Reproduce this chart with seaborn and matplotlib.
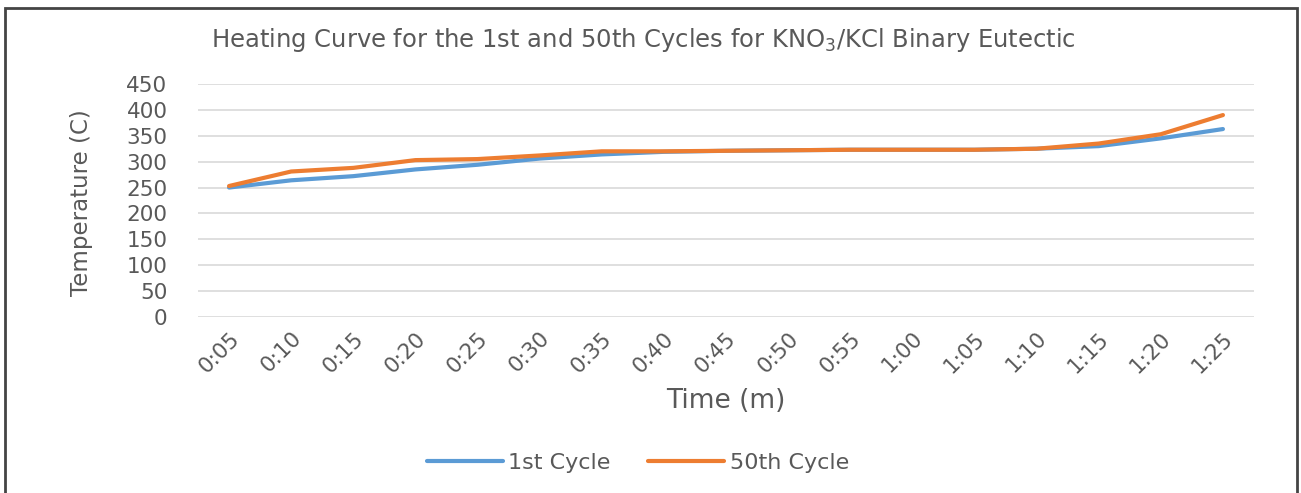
import matplotlib
matplotlib.use("Agg")
import matplotlib.pyplot as plt
import matplotlib.transforms as mtransforms
import seaborn as sns
import pandas as pd
from matplotlib.patches import Rectangle
from matplotlib.lines import Line2D

times = ["0:05", "0:10", "0:15", "0:20", "0:25", "0:30", "0:35", "0:40", "0:45",
         "0:50", "0:55", "1:00", "1:05", "1:10", "1:15", "1:20", "1:25"]
cycle_1st = [250, 264, 272, 285, 294, 306, 314, 319, 321, 322, 323, 323, 323, 325, 330, 345, 363]
cycle_50th = [253, 281, 288, 303, 305, 312, 320, 320, 321, 322, 323, 323, 323, 325, 335, 353, 390]
series_names = ["1st Cycle", "50th Cycle"]
yticks = [0, 50, 100, 150, 200, 250, 300, 350, 400, 450]

df = pd.DataFrame({
    "idx": list(range(len(times))) * 2,
    "Temperature": cycle_1st + cycle_50th,
    "Series": [series_names[0]] * len(times) + [series_names[1]] * len(times),
})

sns.set_theme(style="white")
plt.rcParams["font.family"] = ["DejaVu Sans"]

W, H = 1301, 493
fig = plt.figure(figsize=(W / 100, H / 100), dpi=100)
ax = fig.add_axes([198 / W, 1 - 317 / H, (1254 - 198) / W, (317 - 84) / H])

grey = "#595959"
colors = {"1st Cycle": "#5B9BD5", "50th Cycle": "#ED7D31"}
sns.lineplot(data=df, x="idx", y="Temperature", hue="Series",
             palette=colors, linewidth=3.0, ax=ax, legend=False, sort=False)

ax.set_xlim(-0.5, len(times) - 0.5)
ax.set_ylim(0, 450)
ax.set_yticks(yticks)
ax.set_yticklabels([str(v) for v in yticks], color=grey, fontsize=15.5)
ax.set_xticks(range(len(times)))
ax.set_xticklabels(times, rotation=45, ha="right", rotation_mode="anchor",
                   color=grey, fontsize=15.5)
offset = mtransforms.ScaledTranslation(8 / 100, 0, fig.dpi_scale_trans)
for lab in ax.get_xticklabels():
    lab.set_transform(lab.get_transform() + offset)
ax.tick_params(axis="x", length=0, pad=8)
ax.tick_params(axis="y", length=0, pad=22)
ax.grid(axis="y", color="#D9D9D9", linewidth=1.2)
ax.set_axisbelow(True)
for s in ax.spines.values():
    s.set_visible(False)
ax.set_xlabel("Time (m)", color=grey, fontsize=19, labelpad=8)
ax.set_ylabel("Temperature (C)", color=grey, fontsize=16.5)
ax.yaxis.set_label_coords((93 - 198) / 1056, 0.49)

fig.text(643 / W, 1 - 40 / H,
         "Heating Curve for the 1st and 50th Cycles for KNO$_3$/KCl Binary Eutectic",
         ha="center", va="center", color=grey, fontsize=17.5)

handles = [Line2D([], [], color=colors[n], lw=3.0) for n in series_names]
leg = fig.legend(handles, series_names, loc="center", bbox_to_anchor=(638 / W, 1 - 463 / H),
                 ncol=2, frameon=False, fontsize=16, handlelength=3.4,
                 handletextpad=0.25, columnspacing=1.7)
for t in leg.get_texts():
    t.set_color(grey)

fig.patches.append(Rectangle((5 / W, -0.02), (1297 - 5) / W, 1 - 8 / H + 0.02,
                             transform=fig.transFigure, fill=False,
                             edgecolor="#444444", linewidth=2.0))

fig.savefig("out.png", dpi=100)
